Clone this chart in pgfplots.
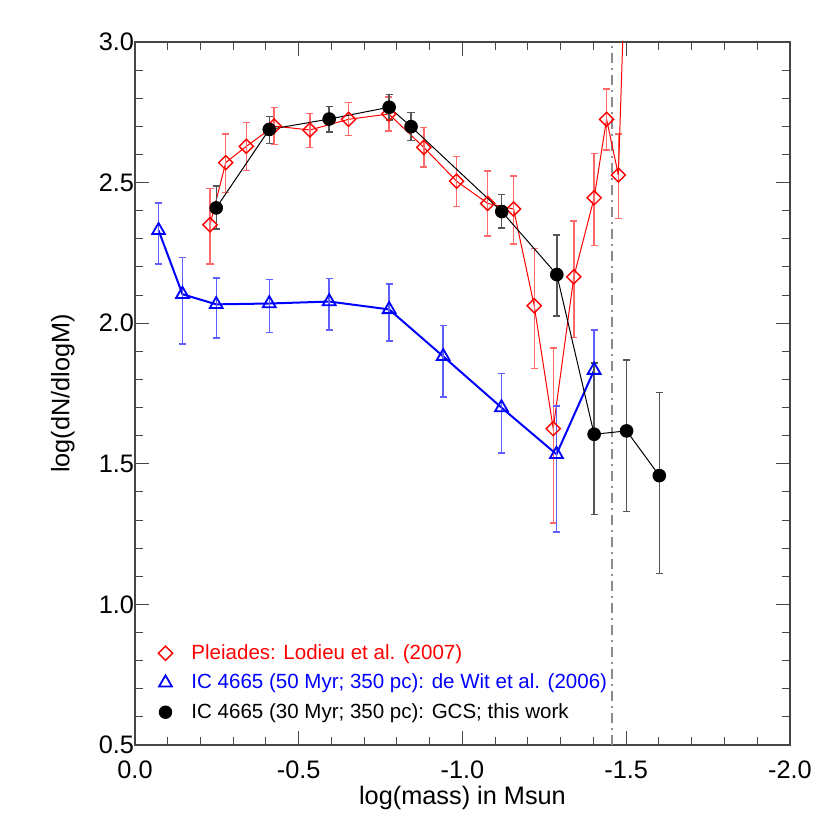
\documentclass[border=0pt]{standalone}
\usepackage{fontspec}
\setmainfont{Liberation Sans}
\usepackage{pgfplots}
\pgfplotsset{compat=1.18}
\usepackage{pgfplotstable}

\definecolor{axgray}{RGB}{70,70,70}
\definecolor{errred}{RGB}{255,105,105}
\definecolor{errblue}{RGB}{95,95,255}
\definecolor{errblack}{RGB}{85,85,85}
\definecolor{vgray}{RGB}{140,140,140}

% Pleiades: Lodieu et al. (2007)
\pgfplotstableread{
x      y     ep    em
-0.229 2.350 0.130 0.140
-0.277 2.571 0.102 0.107
-0.340 2.629 0.084 0.085
-0.425 2.701 0.065 0.065
-0.534 2.687 0.059 0.062
-0.652 2.725 0.060 0.057
-0.775 2.744 0.061 0.061
-0.882 2.625 0.071 0.070
-0.982 2.505 0.087 0.089
-1.077 2.426 0.115 0.116
-1.156 2.406 0.118 0.124
-1.219 2.062 0.204 0.223
-1.277 1.625 0.287 0.336
-1.340 2.165 0.199 0.216
-1.402 2.446 0.158 0.170
-1.440 2.725 0.108 0.109
-1.476 2.527 0.146 0.154
}\pleiades

% IC 4665, de Wit et al. (2006)
\pgfplotstableread{
x      y     ep    em
-0.072 2.330 0.098 0.120
-0.145 2.103 0.131 0.177
-0.248 2.067 0.094 0.119
-0.410 2.070 0.086 0.104
-0.593 2.077 0.082 0.101
-0.776 2.049 0.090 0.113
-0.941 1.882 0.109 0.145
-1.119 1.700 0.121 0.162
-1.287 1.534 0.171 0.277
-1.402 1.833 0.143 0.213
}\dewit

% IC 4665, GCS (this work)
\pgfplotstableread{
x      y     ep    em
-0.248 2.410 0.078 0.075
-0.410 2.689 0.045 0.049
-0.593 2.726 0.044 0.046
-0.776 2.768 0.046 0.046
-0.843 2.699 0.051 0.050
-1.120 2.397 0.060 0.058
-1.288 2.173 0.140 0.147
-1.402 1.605 0.254 0.286
-1.501 1.617 0.252 0.287
-1.601 1.458 0.295 0.349
}\gcs

\begin{document}
\begin{tikzpicture}
\path[use as bounding box] (-67.5bp,-42.5bp) rectangle (347.5bp,372.5bp);
\begin{axis}[
    at={(0,0)}, anchor=south west,
    scale only axis, width=327.5bp, height=351.5bp,
    xmin=-2, xmax=0, ymin=0.5, ymax=3.0,
    x dir=reverse,
    xtick={0,-0.5,-1,-1.5,-2}, xticklabels={0.0,-0.5,-1.0,-1.5,-2.0},
    ytick={0.5,1,1.5,2,2.5,3}, yticklabels={0.5,1.0,1.5,2.0,2.5,3.0},
    minor x tick num=4, minor y tick num=4,
    tick align=inside, major tick length=7bp, minor tick length=4bp,
    axis line style={axgray, line width=0.6bp},
    every tick/.style={axgray, line width=0.5bp},
    tick label style={font=\fontsize{12.7}{14}\selectfont},
    xticklabel style={yshift=-4.5bp},
    yticklabel style={xshift=3bp},
    label style={font=\fontsize{12.7}{14}\selectfont},
    xlabel={log(mass) in Msun}, ylabel={log(dN/dlogM)},
    xlabel style={at={(axis description cs:0.5,-0.075)}, anchor=center},
    ylabel style={at={(axis description cs:-0.110,0.5)}, anchor=center},
    legend image code/.code={\path[draw=none] (0bp,0bp) -- (20bp,0bp); \draw[#1] plot coordinates {(8.5bp,0bp)};},
    legend style={draw=none, fill=none, inner sep=0pt, row sep=2.8bp,
        at={(0.02,0.148)}, anchor=north west,
        font=\fontsize{10.3}{12}\selectfont,
        nodes={inner sep=1.5bp}},
    legend cell align=left,
]
\addplot[vgray, line width=0.8bp, dash pattern=on 5bp off 2.5bp on 1bp off 2.5bp, forget plot]
    coordinates {(-1.456,0.5) (-1.456,3.0)};

\addplot[red, line width=0.5bp, forget plot,
    mark=square, mark size=2.5bp, mark options={rotate=45, line width=0.7bp},
    error bars/.cd, y dir=both, y explicit,
    error bar style={errred, line width=0.7bp},
    error mark options={rotate=90, errred, mark size=1.8bp, line width=0.7bp}]
    table[x=x, y=y, y error plus=ep, y error minus=em] {\pleiades};
\addplot[red, line width=0.5bp, forget plot] coordinates {(-1.476,2.527) (-1.52,4.1)};

\addplot[blue, line width=1bp, forget plot,
    mark=triangle, mark size=3.7bp, mark options={line width=0.9bp},
    error bars/.cd, y dir=both, y explicit,
    error bar style={errblue, line width=0.7bp},
    error mark options={rotate=90, errblue, mark size=1.8bp, line width=0.7bp}]
    table[x=x, y=y, y error plus=ep, y error minus=em] {\dewit};

\addplot[black, line width=0.5bp, forget plot,
    mark=*, mark size=3.15bp,
    error bars/.cd, y dir=both, y explicit,
    error bar style={errblack, line width=0.7bp},
    error mark options={rotate=90, errblack, mark size=1.8bp, line width=0.7bp}]
    table[x=x, y=y, y error plus=ep, y error minus=em] {\gcs};

\addlegendimage{red, mark=square, mark size=2.5bp, mark options={rotate=45, line width=0.7bp}}
\addlegendentry{\textcolor{red}{Pleiades: Lodieu et al. (2007)}}
\addlegendimage{blue, mark=triangle, mark size=3.7bp, mark options={line width=0.9bp}}
\addlegendentry{\textcolor{blue}{IC 4665 (50 Myr; 350 pc): de Wit et al. (2006)}}
\addlegendimage{black, mark=*, mark size=3.15bp}
\addlegendentry{IC 4665 (30 Myr; 350 pc): GCS; this work}
\end{axis}
\end{tikzpicture}
\end{document}
